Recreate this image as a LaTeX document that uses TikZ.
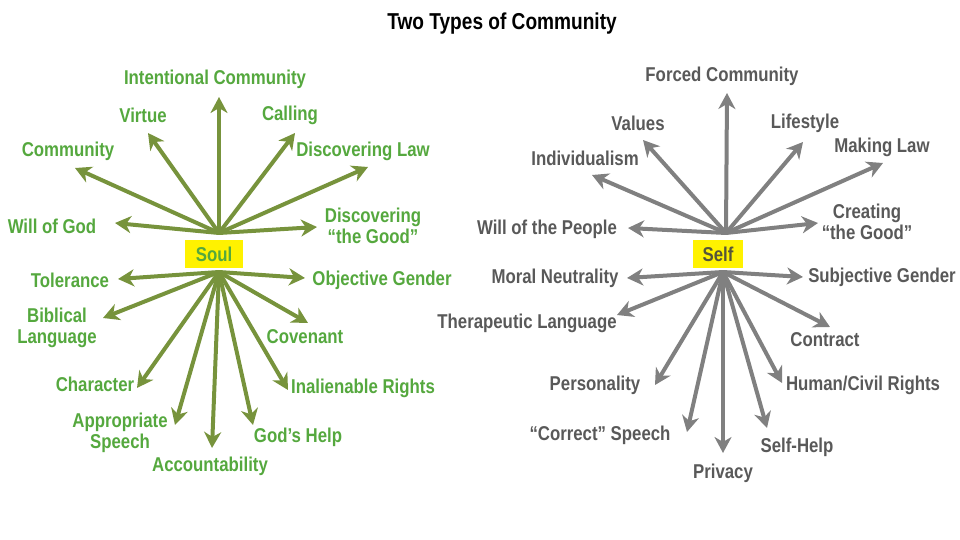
\documentclass[tikz,border=0pt]{standalone}
\usepackage{fontspec}
\setmainfont{Liberation Sans}[FakeStretch=0.84]
\newfontfamily\headfont{Liberation Sans}[FakeStretch=0.83]
\usetikzlibrary{arrows.meta}
\definecolor{soularr}{HTML}{77933C}
\definecolor{soultxt}{HTML}{55A83E}
\definecolor{selfarr}{HTML}{808080}
\definecolor{selftxt}{HTML}{595959}
\definecolor{hubtxt}{HTML}{55553A}

\begin{document}
\begin{tikzpicture}[
    x=1pt, y=-1pt,
    >={Stealth[length=16pt,width=17pt,inset=5pt]},
    soularrow/.style={->, line width=4pt, draw=soularr},
    selfarrow/.style={->, line width=4pt, draw=selfarr},
    soullbl/.style={inner sep=0pt, align=center, text=soultxt,
        font=\fontsize{20}{21}\selectfont\bfseries},
    selflbl/.style={inner sep=0pt, align=center, text=selftxt,
        font=\fontsize{20}{21}\selectfont\bfseries},
    hub/.style={fill=yellow, inner sep=0pt, minimum height=28pt,
        font=\fontsize{20}{21}\selectfont\bfseries},
    heading/.style={inner sep=0pt, font=\headfont\fontsize{23}{26}\selectfont\bfseries}
]
\useasboundingbox (0,0) rectangle (960,540);

\node[heading] (T) at (502,24) {Two Types of Community};

% soul side
\coordinate (Su) at (219,233);
\coordinate (Sd) at (219,272);
\coordinate (S1t) at (219,97);
\coordinate (S2t) at (148,133);
\coordinate (S3t) at (295,133);
\coordinate (S4t) at (75,168);
\coordinate (S5t) at (368,167);
\coordinate (S6t) at (115,223);
\coordinate (S7t) at (317,227);
\coordinate (S8t) at (118,279);
\coordinate (S9t) at (305,278);
\coordinate (S10t) at (103,318);
\coordinate (S11t) at (308,323);
\coordinate (S12t) at (137,388);
\coordinate (S13t) at (288,390);
\coordinate (S14t) at (175,425);
\coordinate (S15t) at (212,448);
\coordinate (S16t) at (253,425);

\foreach \t in {S1t,S2t,S3t,S4t,S5t,S6t,S7t}
    \draw[soularrow] (Su) -- (\t);
\foreach \t in {S8t,S9t,S10t,S11t,S12t,S13t,S14t,S15t,S16t}
    \draw[soularrow] (Sd) -- (\t);

\node[hub, text=soultxt, minimum width=58pt] (S) at (214,254) {Soul};
\node[soullbl] (S1) at (215,79) {Intentional Community};
\node[soullbl] (S2) at (143,115) {Virtue};
\node[soullbl] (S3) at (290,115) {Calling};
\node[soullbl] (S4) at (68,151) {Community};
\node[soullbl] (S5) at (363,151) {Discovering Law};
\node[soullbl] (S6) at (52,226) {Will of God};
\node[soullbl] (S7) at (373,226) {Discovering\\``the Good''};
\node[soullbl] (S8) at (70,280) {Tolerance};
\node[soullbl] (S9) at (382,280) {Objective Gender};
\node[soullbl] (S10) at (57,328) {Biblical\\Language};
\node[soullbl] (S11) at (305,337) {Covenant};
\node[soullbl] (S12) at (95,384) {Character};
\node[soullbl] (S13) at (363,388) {Inalienable Rights};
\node[soullbl] (S14) at (120,433) {Appropriate\\Speech};
\node[soullbl] (S15) at (210,466) {Accountability};
\node[soullbl] (S16) at (298,437) {God’s Help};

% self side
\coordinate (Fu) at (726,233);
\coordinate (Fd) at (723,272);
\coordinate (F1t) at (727,93);
\coordinate (F2t) at (643,140);
\coordinate (F3t) at (803,142);
\coordinate (F4t) at (592,175);
\coordinate (F5t) at (883,163);
\coordinate (F6t) at (628,228);
\coordinate (F7t) at (818,223);
\coordinate (F8t) at (627,278);
\coordinate (F9t) at (803,277);
\coordinate (F10t) at (617,315);
\coordinate (F11t) at (830,327);
\coordinate (F12t) at (655,385);
\coordinate (F13t) at (782,383);
\coordinate (F14t) at (687,432);
\coordinate (F15t) at (723,453);
\coordinate (F16t) at (767,428);

\foreach \t in {F1t,F2t,F3t,F4t,F5t,F6t,F7t}
    \draw[selfarrow] (Fu) -- (\t);
\foreach \t in {F8t,F9t,F10t,F11t,F12t,F13t,F14t,F15t,F16t}
    \draw[selfarrow] (Fd) -- (\t);

\node[hub, text=hubtxt, minimum width=50pt] (F) at (718,254) {Self};
\node[selflbl] (F1) at (722,76) {Forced Community};
\node[selflbl] (F2) at (638,123) {Values};
\node[selflbl] (F3) at (805,123) {Lifestyle};
\node[selflbl] (F4) at (585,158) {Individualism};
\node[selflbl] (F5) at (882,147) {Making Law};
\node[selflbl] (F6) at (547,229) {Will of the People};
\node[selflbl] (F7) at (867,222) {Creating\\``the Good''};
\node[selflbl] (F8) at (555,278) {Moral Neutrality};
\node[selflbl] (F9) at (882,277) {Subjective Gender};
\node[selflbl] (F10) at (527,323) {Therapeutic Language};
\node[selflbl] (F11) at (825,340) {Contract};
\node[selflbl] (F12) at (595,385) {Personality};
\node[selflbl] (F13) at (863,385) {Human/Civil Rights};
\node[selflbl] (F14) at (600,435) {``Correct'' Speech};
\node[selflbl] (F15) at (723,473) {Privacy};
\node[selflbl] (F16) at (797,447) {Self-Help};
\end{tikzpicture}
\end{document}
